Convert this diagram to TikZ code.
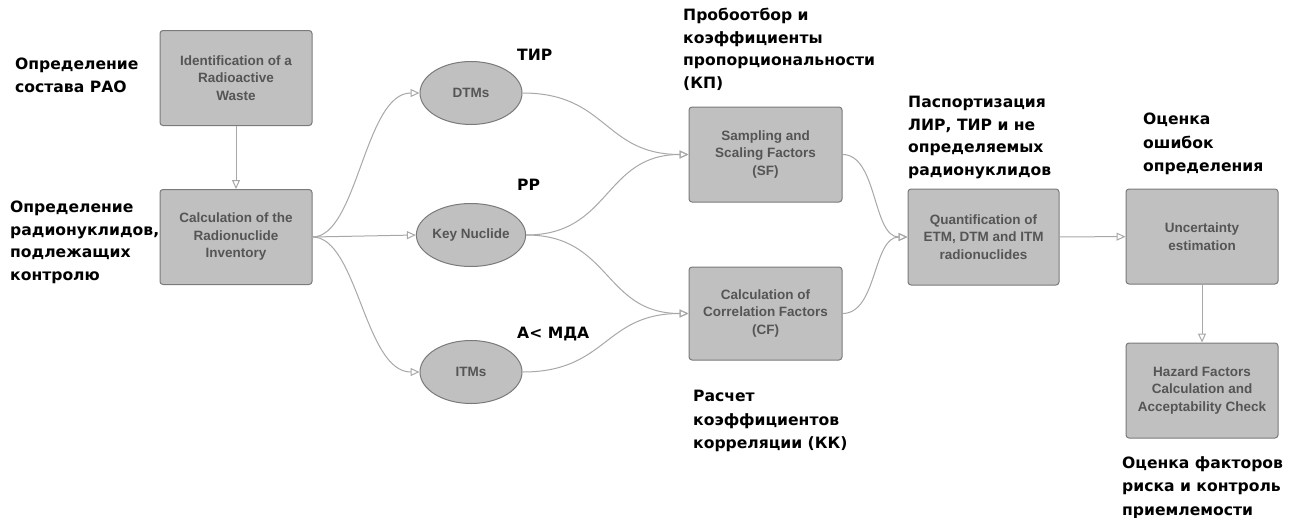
\documentclass[tikz,border=0pt]{standalone}
\usepackage{fontspec}
\usetikzlibrary{shapes.geometric,arrows.meta}
\newfontfamily\labff{DejaVu Sans}
\newfontfamily\boxff{Liberation Sans}
\definecolor{boxfill}{HTML}{C0C0C0}
\definecolor{boxborder}{HTML}{7A7A7A}
\definecolor{boxtext}{HTML}{555555}
\definecolor{linecol}{HTML}{A8A8A8}
\tikzset{
  box/.style={draw=boxborder, fill=boxfill, line width=1pt, rounded corners=3pt,
    minimum width=152pt, minimum height=95pt, align=center, text=boxtext,
    font=\boxff\bfseries\fontsize{13.5}{17.5}\selectfont, inner sep=0pt},
  ell/.style={ellipse, draw=boxborder, fill=boxfill, line width=1pt,
    minimum width=102pt, minimum height=63pt, inner sep=0pt, text=boxtext,
    font=\boxff\bfseries\fontsize{13.5}{17.5}\selectfont},
  lab/.style={anchor=north west, align=left, inner sep=0pt,
    font=\labff\bfseries\fontsize{15.6}{22.5}\selectfont},
  labw/.style={lab, font=\labff\bfseries\fontsize{15.6}{23.5}\selectfont},
  conn/.style={draw=linecol, line width=1pt,
    -{Triangle[open, length=9pt, width=8pt]}}
}
\begin{document}
\begin{tikzpicture}[x=1pt,y=-1pt]
\path[use as bounding box, fill=white] (0,0) rectangle (1298,517);
% boxes
\node[box] (id) at (236,78) {Identification of a\\Radioactive\\Waste};
\node[box] (calc) at (236,237) {Calculation of the\\Radionuclide\\Inventory};
\node[ell] (dtm) at (471,93) {DTMs};
\node[ell] (key) at (471,235) {Key Nuclide};
\node[ell] (itm) at (471,372) {ITMs};
\node[box, minimum width=153pt] (sf) at (765.5,154.5) {Sampling and\\Scaling Factors\\(SF)};
\node[box, minimum width=153pt, minimum height=93pt] (cf) at (765.5,313.5) {Calculation of\\Correlation Factors\\(CF)};
\node[box, minimum width=151pt, minimum height=96pt] (qt) at (983.5,237) {Quantification of\\ETM, DTM and ITM\\radionuclides};
\node[box] (un) at (1202,236.5) {Uncertainty\\estimation};
\node[box] (hz) at (1202,390.5) {Hazard Factors\\Calculation and\\Acceptability Check};
% labels
\node[lab] (l1) at (15,58) {Определение\\состава РАО};
\node[lab] (l2) at (10,201) {Определение\\радионуклидов,\\подлежащих\\контролю};
\node[lab] (l3) at (517,49) {ТИР};
\node[lab] (l4) at (517,179) {РР};
\node[lab] (l5) at (517,327) {А< МДА};
\node[lab] (l6) at (683,8) {Пробоотбор и\\коэффициенты\\пропорциональности\\(КП)};
\node[lab] (l7) at (908,96) {Паспортизация\\ЛИР, ТИР и не\\определяемых\\радионуклидов};
\node[labw] (l8) at (1143,113) {Оценка\\ошибок\\определения};
\node[labw] (l9) at (693,390) {Расчет\\коэффициентов\\корреляции (КК)};
\node[labw] (l10) at (1122,456) {Оценка факторов\\риска и контроль\\приемлемости};
% connectors
\draw[conn] (id) -- (calc);
\draw[conn] (calc.east) .. controls +(45,0) and +(-55,0) .. (dtm.west);
\draw[conn] (calc.east) -- (key.west);
\draw[conn] (calc.east) .. controls +(45,0) and +(-55,0) .. (itm.west);
\draw[conn] (dtm.east) .. controls +(85,0) and +(-85,0) .. (sf.west);
\draw[conn] (key.east) .. controls +(85,0) and +(-85,0) .. (sf.west);
\draw[conn] (key.east) .. controls +(85,0) and +(-85,0) .. (cf.west);
\draw[conn] (itm.east) .. controls +(85,0) and +(-85,0) .. (cf.west);
\draw[conn] (sf.east) .. controls +(35,0) and +(-35,0) .. (qt.west);
\draw[conn] (cf.east) .. controls +(35,0) and +(-35,0) .. (qt.west);
\draw[conn] (qt) -- (un);
\draw[conn] (un) -- (hz);
\end{tikzpicture}
\end{document}
